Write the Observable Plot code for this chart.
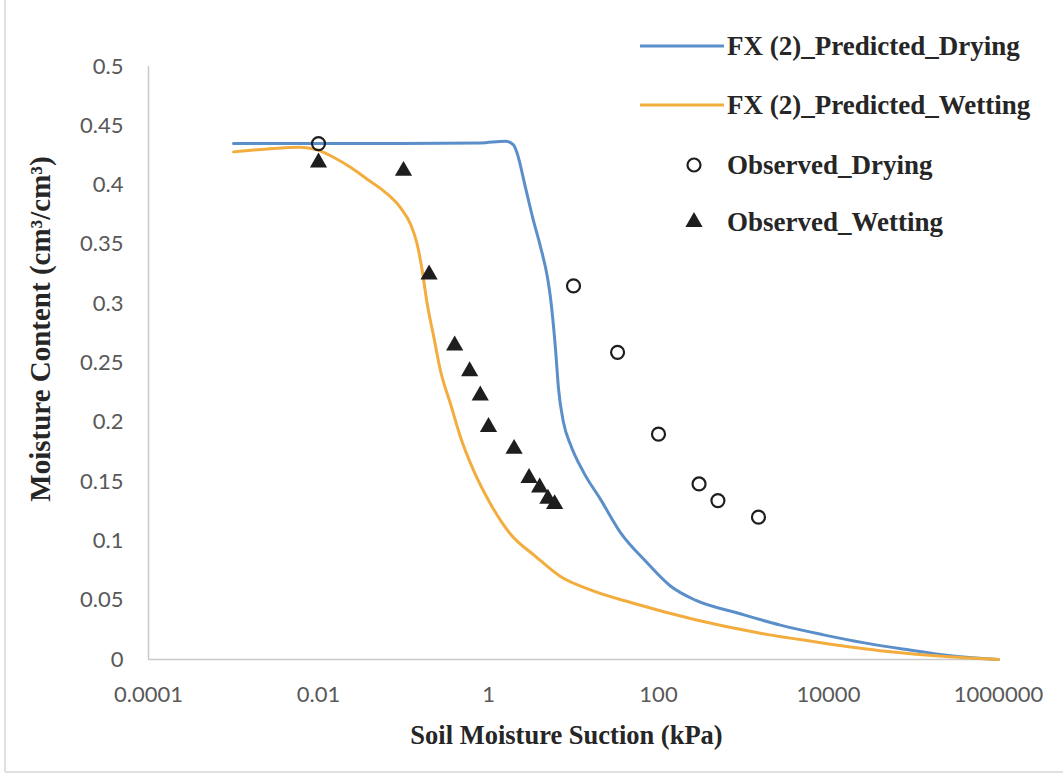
<!DOCTYPE html>
<html>
<head>
<meta charset="utf-8">
<script src="https://cdn.jsdelivr.net/npm/d3@7"></script>
<script src="https://cdn.jsdelivr.net/npm/@observablehq/plot@0.6"></script>
<style>
  html, body { margin: 0; padding: 0; background: #fff; }
  #chart { position: relative; width: 1063px; height: 775px; }
</style>
</head>
<body>
<div id="chart"></div>
<script>
// Predicted drying curve, FX (2)
const dryingSuction  = [0.001, 0.0061, 0.092, 0.81, 1.58, 1.97, 2.19, 2.72, 3.38, 4.09, 4.94, 5.36, 6.14, 6.67, 7.62, 9.23, 13.1, 20.8, 35.7, 70.3, 138, 272, 873, 2720, 8490, 26500, 82800, 258000, 1000000];
const dryingMoisture = [0.435, 0.435, 0.435, 0.4355, 0.437, 0.434, 0.426, 0.398, 0.370, 0.348, 0.322, 0.305, 0.262, 0.228, 0.200, 0.181, 0.158, 0.135, 0.107, 0.083, 0.062, 0.050, 0.039, 0.029, 0.021, 0.014, 0.0084, 0.0034, 0];

// Predicted wetting curve, FX (2)
const wettingSuction  = [0.001, 0.0025, 0.0061, 0.0097, 0.015, 0.0238, 0.0374, 0.0586, 0.092, 0.121, 0.145, 0.166, 0.19, 0.227, 0.272, 0.357, 0.469, 0.671, 1.06, 1.8, 3.57, 7.03, 15.8, 49.4, 272, 1530, 8490, 46900, 262000, 1000000];
const wettingMoisture = [0.428, 0.4305, 0.432, 0.4297, 0.4235, 0.415, 0.405, 0.395, 0.381, 0.367, 0.350, 0.328, 0.300, 0.272, 0.2437, 0.2156, 0.1874, 0.159, 0.131, 0.106, 0.087, 0.070, 0.0587, 0.0476, 0.0335, 0.0223, 0.014, 0.007, 0.0023, 0];

// Observed drying points
const obsDryingSuction  = [0.01, 10, 33, 100, 300, 500, 1500];
const obsDryingMoisture = [0.435, 0.315, 0.259, 0.190, 0.148, 0.134, 0.120];

// Observed wetting points
const obsWettingSuction  = [0.01, 0.1, 0.2, 0.4, 0.6, 0.8, 1, 2, 3, 4, 5, 6];
const obsWettingMoisture = [0.419, 0.412, 0.3246, 0.2648, 0.243, 0.2226, 0.196, 0.1776, 0.153, 0.145, 0.1355, 0.131];

// Axis ticks
const xTicks = [0.0001, 0.01, 1, 100, 10000, 1000000];
const xTickLabels = ["0.0001", "0.01", "1", "100", "10000", "1000000"];
const yTicks = [0, 0.05, 0.1, 0.15, 0.2, 0.25, 0.3, 0.35, 0.4, 0.45, 0.5];
const yTickLabels = ["0", "0.05", "0.1", "0.15", "0.2", "0.25", "0.3", "0.35", "0.4", "0.45", "0.5"];

const seriesNames = ["FX (2)_Predicted_Drying", "FX (2)_Predicted_Wetting", "Observed_Drying", "Observed_Wetting"];
const xTitle = "Soil Moisture Suction (kPa)";
const yTitle = "Moisture Content (cm\u00B3/cm\u00B3)";

const BLUE = "#5b8fc9";
const ORANGE = "#f3ad3e";
const INK = "#1e1e1e";
const AXIS = "#cacaca";
const TICK_TEXT = "#595959";
const SERIF = "'Liberation Serif', 'Times New Roman', serif";
const SANS = "Lato, 'Open Sans', sans-serif";

const zip = (xs, ys) => xs.map((x, i) => ({x, y: ys[i]}));
const drying = zip(dryingSuction, dryingMoisture);
const wetting = zip(wettingSuction, wettingMoisture);
const obsDrying = zip(obsDryingSuction, obsDryingMoisture);
const obsWetting = zip(obsWettingSuction, obsWettingMoisture);

const xLabelOf = new Map(xTicks.map((t, i) => [t, xTickLabels[i]]));
const yLabelOf = new Map(yTicks.map((t, i) => [t, yTickLabels[i]]));

const plot = Plot.plot({
  width: 1063,
  height: 775,
  marginLeft: 148,
  marginRight: 65,
  marginTop: 66,
  marginBottom: 116,
  style: {fontFamily: SANS, background: "#fff", overflow: "visible"},
  x: {type: "log", domain: [1e-4, 1e6]},
  y: {domain: [0, 0.5]},
  marks: [
    Plot.axisX({ticks: xTicks, tickFormat: d => xLabelOf.get(d), tickSize: 0, tickPadding: 27, fontSize: 22, fill: TICK_TEXT, label: null}),
    Plot.axisY({ticks: yTicks, tickFormat: d => yLabelOf.get(d), tickSize: 0, tickPadding: 25, fontSize: 22, fill: TICK_TEXT, label: null}),
    Plot.ruleX([1e-4], {y1: 0, y2: 0.5, stroke: AXIS, strokeWidth: 1.5}),
    Plot.ruleY([0], {stroke: AXIS, strokeWidth: 1.5}),
    Plot.line(drying, {x: "x", y: "y", stroke: BLUE, strokeWidth: 3, curve: "monotone-x"}),
    Plot.line(wetting, {x: "x", y: "y", stroke: ORANGE, strokeWidth: 3, curve: "monotone-x"}),
    Plot.dot(obsDrying, {x: "x", y: "y", symbol: "circle", r: 6.5, fill: "none", stroke: INK, strokeWidth: 2.2}),
    Plot.dot(obsWetting, {x: "x", y: "y", symbol: "triangle", r: 6.4, fill: INK, stroke: "none"}),
    Plot.text([xTitle], {frameAnchor: "bottom", dx: -7, dy: 84, fontSize: 26.5, fontWeight: "bold", fontFamily: SERIF, fill: "#262626"}),
    Plot.text([yTitle], {frameAnchor: "left", textAnchor: "middle", rotate: -90, dx: -108, dy: -34, fontSize: 29, fontWeight: "bold", fontFamily: SERIF, fill: "#262626"})
  ]
});

document.getElementById("chart").append(plot);

// Legend in the upper-right corner, plus the thin chart-area border
const svg = d3.select(plot);
const legend = svg.append("g")
  .attr("font-family", SERIF)
  .attr("font-weight", "bold")
  .attr("font-size", 27)
  .attr("text-anchor", "start")
  .attr("fill", "#262626");
const rowY = [46, 105, 165, 222];
const keyX0 = 640, keyX1 = 724, keyMid = 694, textX = 727;

legend.append("line").attr("x1", keyX0).attr("x2", keyX1).attr("y1", rowY[0]).attr("y2", rowY[0]).attr("stroke", BLUE).attr("stroke-width", 3);
legend.append("line").attr("x1", keyX0).attr("x2", keyX1).attr("y1", rowY[1]).attr("y2", rowY[1]).attr("stroke", ORANGE).attr("stroke-width", 3);
legend.append("circle").attr("cx", keyMid).attr("cy", rowY[2]).attr("r", 6.5).attr("fill", "none").attr("stroke", INK).attr("stroke-width", 2.2);
legend.append("path").attr("transform", `translate(${keyMid},${rowY[3]})`).attr("d", d3.symbol(d3.symbolTriangle, Math.PI * 6.4 * 6.4)()).attr("fill", INK);

seriesNames.forEach((name, i) => {
  legend.append("text").attr("x", textX).attr("y", rowY[i] + 9).text(name);
});

svg.append("line").attr("x1", 5).attr("x2", 5).attr("y1", 0).attr("y2", 772).attr("stroke", "#d6d6d6").attr("stroke-width", 1.5);
svg.append("line").attr("x1", 5).attr("x2", 1063).attr("y1", 772).attr("y2", 772).attr("stroke", "#d6d6d6").attr("stroke-width", 1.5);
</script>
</body>
</html>
